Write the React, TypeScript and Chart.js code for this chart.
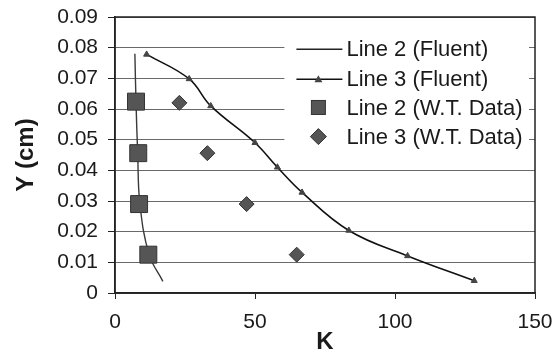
import React, { useEffect, useRef } from "react";
import { Chart, registerables } from "chart.js";

Chart.register(...registerables);

// ---- data ----
const line2FluentX = [7.1, 7.5, 8.1, 8.9, 12.2, 17.1];
const line2FluentY = [0.078, 0.0624, 0.0456, 0.029, 0.0125, 0.0038];

const line3FluentX = [11.3, 26.5, 34.2, 50, 58, 66.8, 83.5, 104.5, 128.3];
const line3FluentY = [0.0778, 0.0698, 0.061, 0.049, 0.041, 0.0328, 0.0204, 0.0121, 0.004];

const line2WTX = [7.5, 8.3, 8.6, 11.9];
const line2WTY = [0.0624, 0.0456, 0.029, 0.0125];

const line3WTX = [23, 33, 47, 64.9];
const line3WTY = [0.062, 0.0456, 0.029, 0.0125];

const xTicks = [0, 50, 100, 150];
const yTicks = [0, 0.01, 0.02, 0.03, 0.04, 0.05, 0.06, 0.07, 0.08, 0.09];

const seriesNames = ["Line 2 (Fluent)", "Line 3 (Fluent)", "Line 2 (W.T. Data)", "Line 3 (W.T. Data)"];

const FONT = "'Liberation Sans', Arial, sans-serif";
const TEXT = "#1a1a1a";
const MARK = "#555555";
const MARK_EDGE = "#333333";

const zip = (xs: number[], ys: number[]) => xs.map((x, i) => ({ x, y: ys[i] }));

const legendPlugin = {
  id: "customLegend",
  afterDraw(chart: any) {
    const ctx = chart.ctx;
    const xs = chart.scales.x;
    const ys = chart.scales.y;
    ctx.save();
    // white box covering gridlines
    const bx = xs.getPixelForValue(60.5);
    const bRight = chart.chartArea.right - 6;
    const bTop = chart.chartArea.top + 14;
    const bBottom = ys.getPixelForValue(0.0455);
    ctx.fillStyle = "#ffffff";
    ctx.fillRect(bx, bTop, bRight - bx, bBottom - bTop);

    const sx0 = bx + 12;
    const sx1 = bx + 58;
    const mx = (sx0 + sx1) / 2 - 1;
    const tx = bx + 62;
    const rows = [ys.getPixelForValue(0.0795), ys.getPixelForValue(0.0697), ys.getPixelForValue(0.0605), ys.getPixelForValue(0.051)];
    ctx.font = `22px ${FONT}`;
    ctx.fillStyle = TEXT;
    ctx.textBaseline = "middle";
    ctx.textAlign = "left";
    rows.forEach((ry: number, i: number) => {
      if (i === 0 || i === 1) {
        ctx.strokeStyle = i === 0 ? "#222" : "#111";
        ctx.lineWidth = 1.6;
        ctx.beginPath();
        ctx.moveTo(sx0, ry);
        ctx.lineTo(sx1, ry);
        ctx.stroke();
        if (i === 1) {
          ctx.fillStyle = "#444";
          ctx.beginPath();
          ctx.moveTo(mx, ry - 4);
          ctx.lineTo(mx + 4, ry + 3);
          ctx.lineTo(mx - 4, ry + 3);
          ctx.closePath();
          ctx.fill();
        }
      } else if (i === 2) {
        ctx.fillStyle = MARK;
        ctx.strokeStyle = MARK_EDGE;
        ctx.lineWidth = 1;
        ctx.fillRect(mx - 7, ry - 7, 14, 14);
        ctx.strokeRect(mx - 7, ry - 7, 14, 14);
      } else {
        ctx.fillStyle = MARK;
        ctx.strokeStyle = MARK_EDGE;
        ctx.lineWidth = 1;
        ctx.beginPath();
        ctx.moveTo(mx, ry - 8);
        ctx.lineTo(mx + 8, ry);
        ctx.lineTo(mx, ry + 8);
        ctx.lineTo(mx - 8, ry);
        ctx.closePath();
        ctx.fill();
        ctx.stroke();
      }
      ctx.fillStyle = TEXT;
      ctx.fillText(seriesNames[i], tx, ry + 1);
    });

    // plot border
    const a = chart.chartArea;
    ctx.strokeStyle = "#222";
    ctx.lineWidth = 1.5;
    ctx.strokeRect(a.left, a.top, a.right - a.left, a.bottom - a.top);
    ctx.restore();
  },
};

export default function App() {
  const ref = useRef<HTMLCanvasElement | null>(null);
  useEffect(() => {
    if (!ref.current) return;
    const chart = new Chart(ref.current, {
      type: "scatter",
      data: {
        datasets: [
          {
            label: seriesNames[0],
            data: zip(line2FluentX, line2FluentY),
            showLine: true,
            borderColor: "#3a3a3a",
            borderWidth: 1.4,
            pointRadius: 0,
            tension: 0.4,
            order: 3,
          },
          {
            label: seriesNames[1],
            data: zip(line3FluentX, line3FluentY),
            showLine: true,
            borderColor: "#111",
            borderWidth: 1.6,
            pointStyle: "triangle",
            pointRadius: 3.5,
            backgroundColor: "#444",
            pointBorderColor: "#444",
            pointBorderWidth: 1,
            tension: 0.4,
            order: 2,
          },
          {
            label: seriesNames[2],
            data: zip(line2WTX, line2WTY),
            pointStyle: "rect",
            pointRadius: 12,
            backgroundColor: MARK,
            borderColor: MARK_EDGE,
            borderWidth: 1,
            order: 1,
          },
          {
            label: seriesNames[3],
            data: zip(line3WTX, line3WTY),
            pointStyle: "rectRot",
            pointRadius: 7.5,
            backgroundColor: MARK,
            borderColor: MARK_EDGE,
            borderWidth: 1,
            order: 0,
          },
        ],
      },
      options: {
        animation: false,
        responsive: false,
        events: [],
        layout: { padding: { left: 0, right: 20, top: 17, bottom: 0 } },
        plugins: { legend: { display: false }, tooltip: { enabled: false } },
        scales: {
          x: {
            type: "linear",
            min: 0,
            max: 150,
            afterBuildTicks: (s: any) => {
              s.ticks = xTicks.map((v) => ({ value: v }));
            },
            afterFit: (s: any) => {
              s.height = 59;
              s.paddingLeft = 0;
              s.paddingRight = 0;
            },
            ticks: {
              color: TEXT,
              font: { family: FONT, size: 21 },
              padding: 11,
              maxRotation: 0,
            },
            grid: { drawOnChartArea: false, drawTicks: true, tickLength: 6, color: "#222", tickColor: "#222" },
            border: { color: "#222", width: 1.5 },
            title: {
              display: true,
              text: "K",
              color: TEXT,
              font: { family: FONT, size: 24, weight: "bold" },
              padding: { top: 0, bottom: -5 },
            },
          },
          y: {
            type: "linear",
            min: 0,
            max: 0.09,
            afterBuildTicks: (s: any) => {
              s.ticks = yTicks.map((v) => ({ value: v }));
            },
            afterFit: (s: any) => {
              s.width = 115;
              s.paddingTop = 0;
              s.paddingBottom = 0;
            },
            ticks: {
              color: TEXT,
              font: { family: FONT, size: 21 },
              padding: 10,
              callback: (v: any) => (Number(v) === 0 ? "0" : Number(v).toFixed(2)),
            },
            grid: { color: "#6a6a6a", lineWidth: 1, tickLength: 7, tickColor: "#222" },
            border: { color: "#222", width: 1.5 },
            title: {
              display: true,
              text: "Y (cm)",
              color: TEXT,
              font: { family: FONT, size: 24, weight: "bold" },
              padding: { top: 12, bottom: 0 },
            },
          },
        },
      },
      plugins: [legendPlugin],
    } as any);
    return () => chart.destroy();
  }, []);
  return (
    <div style={{ position: "absolute", left: 0, top: 0, width: 555, height: 352, background: "#fff" }}>
      <canvas ref={ref} width={555} height={352} />
    </div>
  );
}
